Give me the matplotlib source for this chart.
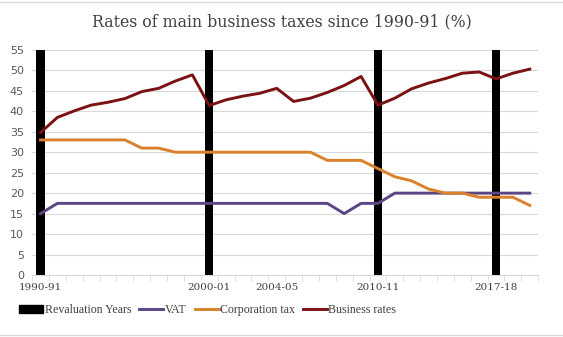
import numpy as np
import matplotlib.pyplot as plt
from matplotlib.patches import Patch
from matplotlib.lines import Line2D

years = ["1990-91", "", "", "", "", "", "", "", "", "",
         "2000-01", "", "", "", "2004-05", "", "", "", "", "",
         "2010-11", "", "", "", "", "", "", "2017-18", "", ""]
revaluation = [55, 0, 0, 0, 0, 0, 0, 0, 0, 0,
               55, 0, 0, 0, 0, 0, 0, 0, 0, 0,
               55, 0, 0, 0, 0, 0, 0, 55, 0, 0]
vat = [15, 17.5, 17.5, 17.5, 17.5, 17.5, 17.5, 17.5, 17.5, 17.5,
       17.5, 17.5, 17.5, 17.5, 17.5, 17.5, 17.5, 17.5, 15, 17.5,
       17.5, 20, 20, 20, 20, 20, 20, 20, 20, 20]
corp_tax = [33, 33, 33, 33, 33, 33, 31, 31, 30, 30,
            30, 30, 30, 30, 30, 30, 30, 28, 28, 28,
            26, 24, 23, 21, 20, 20, 19, 19, 19, 17]
business_rates = [34.8, 38.5, 40.1, 41.5, 42.2, 43.1, 44.8, 45.6, 47.4, 48.9,
                  41.4, 42.8, 43.7, 44.4, 45.6, 42.4, 43.2, 44.6, 46.3, 48.5,
                  41.5, 43.2, 45.5, 46.9, 48.0, 49.3, 49.6, 47.9, 49.3, 50.3]

c_vat = "#5b4584"
c_ct = "#d9822b"
c_br = "#7b1113"
serif = "DejaVu Serif"

fig = plt.figure(figsize=(5.63, 3.37), dpi=100)
ax = fig.add_axes([0.057, 0.184, 0.899, 0.668])

x = np.arange(len(years))
ax.bar(x, revaluation, width=0.5, color="black", zorder=2)
ax.plot(x, vat, color=c_vat, lw=2.1, zorder=3)
ax.plot(x, corp_tax, color=c_ct, lw=2.1, zorder=3)
ax.plot(x, business_rates, color=c_br, lw=2.1, zorder=4)

ax.set_xlim(-0.5, len(years) - 0.5)
ax.set_ylim(0, 55)
ax.set_yticks(range(0, 56, 5))
ax.yaxis.grid(True, color="#d9d9d9", lw=0.8)
ax.set_axisbelow(True)
for s in ["top", "right", "left"]:
    ax.spines[s].set_visible(False)
ax.spines["bottom"].set_color("#d9d9d9")
ax.tick_params(axis="y", length=0, labelsize=8, labelcolor="#595959", pad=6)

ax.set_xticks(x)
ax.set_xticklabels(years, fontsize=7.5, family=serif, color="#404040")
ax.set_xticks(np.arange(-0.5, len(years), 1), minor=True)
ax.tick_params(axis="x", which="major", length=0, pad=6)
ax.tick_params(axis="x", which="minor", length=4, color="#d9d9d9")

fig.text(0.5, 0.935, "Rates of main business taxes since 1990-91 (%)",
         ha="center", va="center", fontsize=11.3, family=serif, color="#404040")

handles = [Patch(color="black"),
           Line2D([], [], color=c_vat, lw=2.1),
           Line2D([], [], color=c_ct, lw=2.1),
           Line2D([], [], color=c_br, lw=2.1)]
labels = ["Revaluation Years", "VAT", "Corporation tax", "Business rates"]
fig.legend(handles, labels, loc="center left", bbox_to_anchor=(0.024, 0.08),
           ncol=4, frameon=False, handlelength=2.0, handletextpad=0.1,
           columnspacing=0.7, borderpad=0,
           prop={"family": "Liberation Serif", "size": 8.6},
           labelcolor="#404040")

fig.add_artist(Line2D([0, 1], [0.995, 0.995], color="#d9d9d9", lw=1))
fig.add_artist(Line2D([0, 1], [0.005, 0.005], color="#d9d9d9", lw=1))

fig.savefig("out.png", dpi=100)
